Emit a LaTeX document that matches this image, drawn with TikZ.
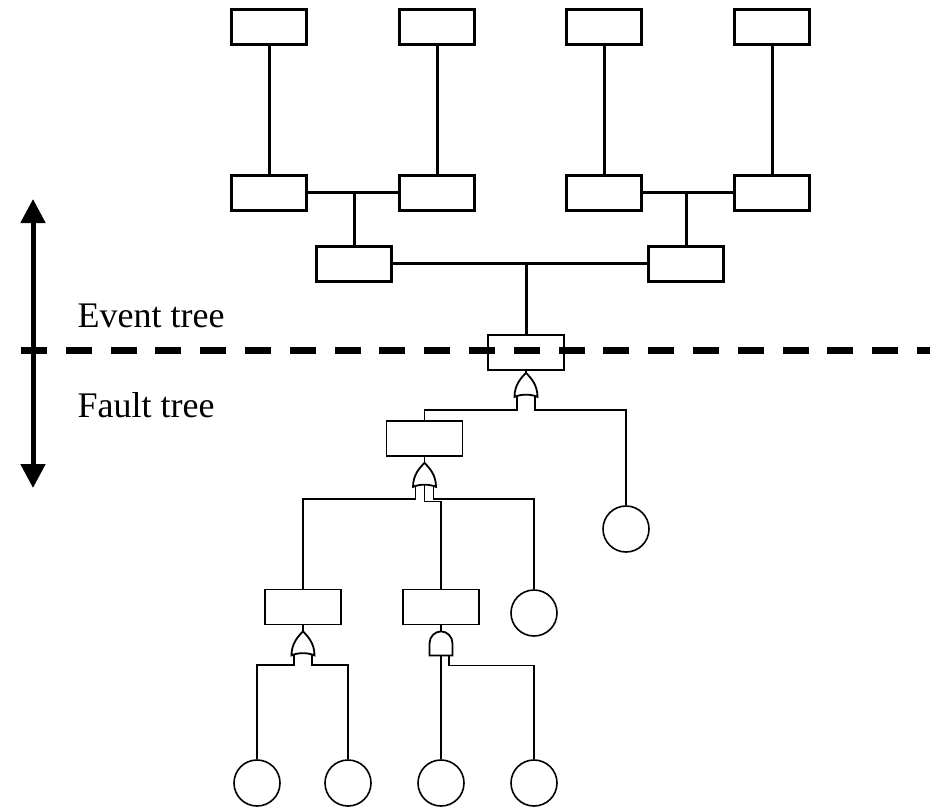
\documentclass[tikz,border=0pt]{standalone}
\usepackage{fontspec}
\setmainfont{Liberation Serif}
\usetikzlibrary{calc,arrows.meta}

\begin{document}
\begin{tikzpicture}[x=1pt,y=-1pt,
        evbox/.style={draw,line width=3pt,fill=white,minimum width=75pt,minimum height=35pt,inner sep=0pt},
        ftbox/.style={draw,line width=1.8pt,fill=white,minimum width=76pt,minimum height=35pt,inner sep=0pt},
        basic/.style={draw,circle,line width=1.6pt,fill=white,minimum size=46pt,inner sep=0pt},
        evline/.style={line width=3pt},
        ftline/.style={line width=1.8pt},
        label/.style={anchor=base west,font={\fontsize{36}{43}\selectfont}},
        orgate/.pic={
            \draw[ftline,fill=white] (-11.5,24) .. controls (-11.5,12) and (-5,5) .. (0,0)
                .. controls (5,5) and (11.5,12) .. (11.5,24) .. controls (5,21) and (-5,21) .. cycle;
            \coordinate (-out) at (0,0);
            \coordinate (-in1) at (-9,23.5);
            \coordinate (-in2) at (9,23.5);
            \coordinate (-in3) at (0,21.5);
        },
        andgate/.pic={
            \draw[ftline,fill=white] (-11.5,24) -- (-11.5,12) .. controls (-11.5,5) and (-6,0) .. (0,0)
                .. controls (6,0) and (11.5,5) .. (11.5,12) -- (11.5,24) -- cycle;
            \coordinate (-out) at (0,0);
            \coordinate (-in1) at (0,24);
            \coordinate (-in2) at (8,24);
        }]
    \useasboundingbox (0,0) rectangle (939,809);

    % event tree
    \node[evbox] (e1) at (269,26.5) {};
    \node[evbox] (e2) at (437,26.5) {};
    \node[evbox] (e3) at (604,26.5) {};
    \node[evbox] (e4) at (772,26.5) {};
    \node[evbox] (e5) at (269,192.5) {};
    \node[evbox] (e6) at (437,192.5) {};
    \node[evbox] (e7) at (604,192.5) {};
    \node[evbox] (e8) at (772,192.5) {};
    \node[evbox] (e9) at (354,263.5) {};
    \node[evbox] (e10) at (686,263.5) {};

    \foreach \a/\b in {e1/e5,e2/e6,e3/e7,e4/e8}
        \draw[evline] (\a.south) -- (\b.north);
    \draw[evline] (e5.east) -- (e6.west);
    \draw[evline] (e7.east) -- (e8.west);
    \draw[evline] (e9.north) -- (e9.north |- e5.east);
    \draw[evline] (e10.north) -- (e10.north |- e7.east);
    \draw[evline] (e9.east) -- (e10.west);

    % fault tree
    \node[ftbox] (ft0) at (526,352.5) {};
    \node[ftbox] (ft1) at (424.5,438.5) {};
    \node[ftbox] (ft2) at (303,607) {};
    \node[ftbox] (ft3) at (441,607) {};
    \node[basic] (c1) at (626,529) {};
    \node[basic] (c2) at (534,613) {};
    \node[basic] (c3) at (257,783) {};
    \node[basic] (c4) at (348,783) {};
    \node[basic] (c5) at (441,783) {};
    \node[basic] (c6) at (534,783) {};

    \draw[evline] (ft0.north) -- (ft0.north |- e9.east);

    \pic (g1) at ($ (ft0.south) + (0,2) $) {orgate};
    \pic (g2) at ($ (ft1.south) + (0,6) $) {orgate};
    \pic (g3) at ($ (ft2.south) + (0,6) $) {orgate};
    \pic (g4) at ($ (ft3.south) + (0,6) $) {andgate};

    \draw[ftline] (ft0.south) -- (g1-out);
    \draw[ftline] (g1-in1) -- ++(0,13.5) -| (ft1.north);
    \draw[ftline] (g1-in2) -- ++(0,13.5) -| (c1.north);
    \draw[ftline] (ft1.south) -- (g2-out);
    \draw[ftline] (g2-in1) -- ++(0,12.5) -| (ft2.north);
    \draw[ftline] (g2-in3) -- ++(0,17) -| (ft3.north);
    \draw[ftline] (g2-in2) -- ++(0,12.5) -| (c2.north);
    \draw[ftline] (ft2.south) -- (g3-out);
    \draw[ftline] (g3-in1) -- ++(0,10) -| (c3.north);
    \draw[ftline] (g3-in2) -- ++(0,10) -| (c4.north);
    \draw[ftline] (ft3.south) -- (g4-out);
    \draw[ftline] (g4-in1) -- (c5.north);
    \draw[ftline] (g4-in2) -- ++(0,10) -| (c6.north);

    % divider and labels
    \coordinate (top) at (33,199);
    \coordinate (bottom) at (33,488);
    \coordinate (divl) at (21,350);
    \coordinate (divr) at (930,350);
    \draw[line width=5pt,{Triangle[length=24pt,width=24pt]}-{Triangle[length=24pt,width=24pt]}] (top) -- (bottom);
    \draw[line width=7pt,dash pattern=on 26pt off 18.8pt] (divl) -- (divr);
    \node[label] (event) at (74,327) {Event tree};
    \node[label] (fault) at (74,417) {Fault tree};
\end{tikzpicture}
\end{document}
